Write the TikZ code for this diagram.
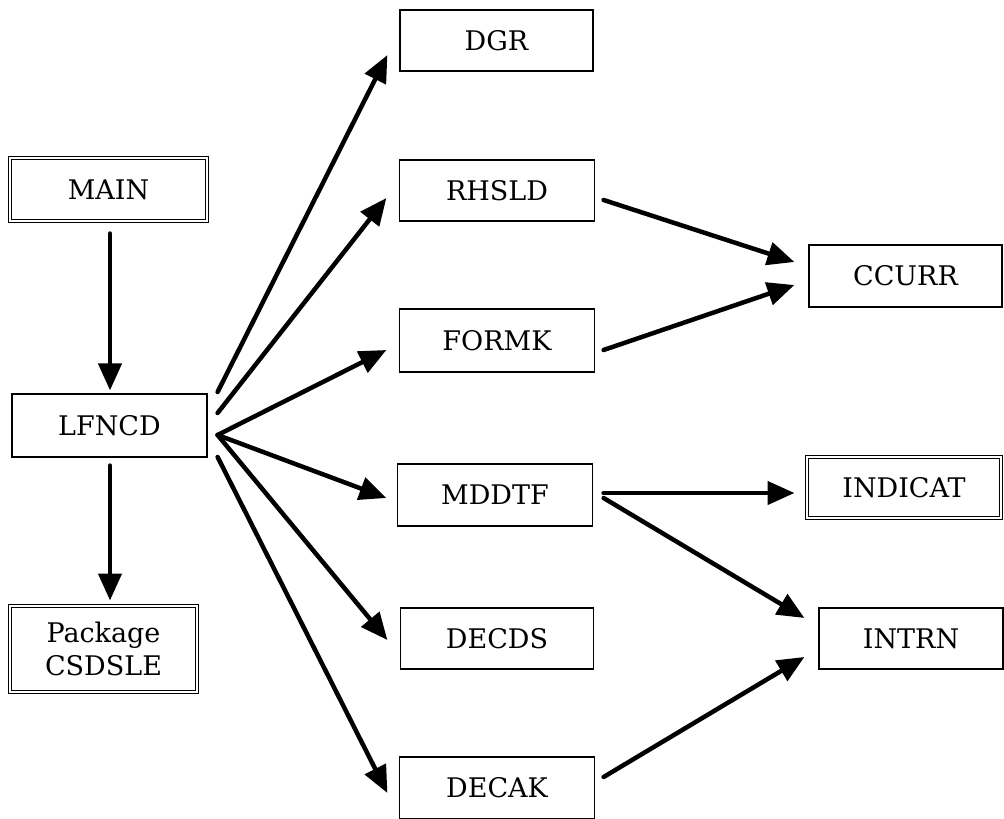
\documentclass[tikz,border=0pt]{standalone}
\usepackage{fontspec}
\setmainfont{DejaVu Serif}
\usetikzlibrary{arrows.meta}
\begin{document}
\begin{tikzpicture}[x=1pt,y=-1pt,
  box/.style={draw,line width=1.2pt,fill=white,inner sep=0pt,font=\fontsize{27}{33}\selectfont,align=center},
  dbox/.style={box,double,double distance=2.4pt,line width=1pt},
  arr/.style={line width=4.5pt,line cap=round,-{Triangle[length=27pt,width=23pt]}}]
\useasboundingbox (0,0) rectangle (1004,819);
\node[dbox,minimum width=197,minimum height=63] (MAIN) at (108.5,189.5) {MAIN};
\node[box,minimum width=195,minimum height=63] (LFNCD) at (109.5,425.5) {LFNCD};
\node[dbox,minimum width=187,minimum height=86] (CSDSLE) at (103.5,649) {Package\\CSDSLE};
\node[box,minimum width=193,minimum height=61] (DGR) at (496.5,40.5) {DGR};
\node[box,minimum width=195,minimum height=61] (RHSLD) at (497,190.5) {RHSLD};
\node[box,minimum width=195,minimum height=63] (FORMK) at (497,340.5) {FORMK};
\node[box,minimum width=195,minimum height=62] (MDDTF) at (495,495) {MDDTF};
\node[box,minimum width=193,minimum height=61] (DECDS) at (497,638.5) {DECDS};
\node[box,minimum width=195,minimum height=62] (DECAK) at (497,788) {DECAK};
\node[box,minimum width=193,minimum height=62] (CCURR) at (905.5,276) {CCURR};
\node[dbox,minimum width=194,minimum height=61] (INDICAT) at (904,487.5) {INDICAT};
\node[box,minimum width=184,minimum height=61] (INTRN) at (911,638.5) {INTRN};

\draw[arr] ([shift={(1.5,12)}]MAIN.south) -- ([shift={(0.5,-3)}]LFNCD.north);
\draw[arr] ([shift={(0.5,8)}]LFNCD.south) -- ([shift={(6.5,-5)}]CSDSLE.north);

\draw[arr] ([shift={(10,-33.5)}]LFNCD.east) -- ([shift={(-12,14.5)}]DGR.west);
\draw[arr] ([shift={(10,-12.5)}]LFNCD.east) -- ([shift={(-12.5,7.5)}]RHSLD.west);
\draw[arr] ([shift={(10,9.5)}]LFNCD.east) -- ([shift={(-12.5,9.5)}]FORMK.west);
\draw[arr] ([shift={(10,9.5)}]LFNCD.east) -- ([shift={(-10.5,3)}]MDDTF.west);
\draw[arr] ([shift={(10,9.5)}]LFNCD.east) -- ([shift={(-12.5,1.5)}]DECDS.west);
\draw[arr] ([shift={(10,31.5)}]LFNCD.east) -- ([shift={(-11.5,5)}]DECAK.west);

\draw[arr] ([shift={(8.5,9.5)}]RHSLD.east) -- ([shift={(-14,-14)}]CCURR.west);
\draw[arr] ([shift={(8.5,9.5)}]FORMK.east) -- ([shift={(-14,9)}]CCURR.west);
\draw[arr] ([shift={(10.5,-2)}]MDDTF.east) -- ([shift={(-12,5.5)}]INDICAT.west);
\draw[arr] ([shift={(10.5,3)}]MDDTF.east) -- ([shift={(-14,-20.5)}]INTRN.west);
\draw[arr] ([shift={(8.5,-11)}]DECAK.east) -- ([shift={(-14,18.5)}]INTRN.west);
\end{tikzpicture}
\end{document}
